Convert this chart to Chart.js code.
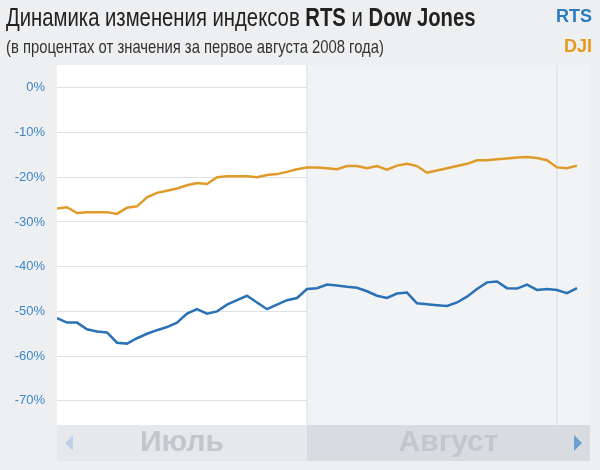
<!DOCTYPE html>
<html><head><meta charset="utf-8">
<script src="https://cdn.jsdelivr.net/npm/chart.js@4"></script>
<style>
body{margin:0;background:#eeeff1;font-family:"Liberation Sans",sans-serif}
#wrap{position:relative;width:600px;height:470px}
.tx{position:absolute;transform-origin:left top;transform:scaleX(0.78);white-space:nowrap}
#t1{left:6px;top:2px;font-size:26px;color:#222}
#t2{left:6px;top:36px;font-size:19px;color:#333}
#l1{position:absolute;right:8px;top:6px;font-size:18px;font-weight:bold;color:#2a7bbf}
#l2{position:absolute;right:8px;top:36px;font-size:18px;font-weight:bold;color:#e59a1e}
canvas{position:absolute;left:0;top:0}
</style></head><body>
<div id="wrap">
<canvas id="c" width="600" height="470"></canvas>
<div id="t1" class="tx">Динамика изменения индексов <b>RTS</b> и <b>Dow Jones</b></div>
<div id="t2" class="tx">(в процентах от значения за первое августа 2008 года)</div>
<div id="l1">RTS</div><div id="l2">DJI</div>
</div>
<script>
// values, % of 1 Aug 2008
const rts = [-51.5,-52.5,-52.5,-54,-54.5,-54.7,-57,-57.2,-56,-55,-54.2,-53.5,-52.5,-50.5,-49.5,-50.5,-50,-48.5,-47.5,-46.5,-48,-49.5,-48.5,-47.5,-47,-45,-44.8,-44,-44.2,-44.5,-44.7,-45.5,-46.5,-47,-46,-45.8,-48.2,-48.4,-48.6,-48.8,-48,-46.7,-45,-43.5,-43.3,-44.8,-44.9,-44,-45.2,-45,-45.2,-45.9,-44.8];
const dji = [-27,-26.7,-28,-27.8,-27.8,-27.8,-28.2,-26.8,-26.5,-24.5,-23.5,-23,-22.5,-21.8,-21.3,-21.5,-20,-19.8,-19.8,-19.8,-20,-19.5,-19.3,-18.8,-18.2,-17.8,-17.8,-18,-18.2,-17.5,-17.5,-18,-17.5,-18.3,-17.4,-17,-17.5,-19,-18.5,-18,-17.5,-17,-16.2,-16.2,-16,-15.8,-15.6,-15.5,-15.7,-16.2,-17.8,-18,-17.4];
const months = ["Июль", "Август"];
const monthStart = 25; // first point of August
const yTicks = [0,-10,-20,-30,-40,-50,-60,-70];

const pts = a => a.map((v, i) => ({x: i, y: v}));

// backgrounds, separators and month bar
const deco = {
    id: "deco",
    beforeDatasetsDraw(chart) {
        const {ctx, chartArea: a, scales: {x}} = chart;
        const m = x.getPixelForValue(monthStart);
        const e = x.getPixelForValue(50);
        ctx.save();
        ctx.fillStyle = "#f2f3f5";
        ctx.fillRect(m, a.top, a.right - m, a.bottom - a.top);
        ctx.strokeStyle = "#d6dbe2";
        ctx.lineWidth = 1;
        [m, e].forEach(px => { ctx.beginPath(); ctx.moveTo(px, a.top); ctx.lineTo(px, a.bottom); ctx.stroke(); });
        ctx.restore();
    },
    afterDraw(chart) {
        const {ctx, chartArea: a, scales: {x}} = chart;
        const m = x.getPixelForValue(monthStart);
        const top = a.bottom, h = 36;
        ctx.save();
        ctx.fillStyle = "#e6e8eb";
        ctx.fillRect(a.left, top, m - a.left, h);
        ctx.fillStyle = "#d8dbdf";
        ctx.fillRect(m, top, a.right - m, h);
        ctx.fillStyle = "#c3c6cb";
        ctx.font = "bold 30px 'Liberation Sans', sans-serif";
        ctx.textAlign = "center";
        ctx.textBaseline = "middle";
        ctx.fillText(months[0], (a.left + m) / 2, top + h / 2);
        ctx.fillText(months[1], (m + a.right) / 2, top + h / 2);
        ctx.fillStyle = "#bcd0e6";
        ctx.beginPath(); ctx.moveTo(a.left + 16, top + 10); ctx.lineTo(a.left + 16, top + 26); ctx.lineTo(a.left + 8, top + 18); ctx.fill();
        ctx.fillStyle = "#6a9fd0";
        ctx.beginPath(); ctx.moveTo(a.right - 16, top + 10); ctx.lineTo(a.right - 16, top + 26); ctx.lineTo(a.right - 8, top + 18); ctx.fill();
        ctx.restore();
    }
};

new Chart(document.getElementById("c"), {
    type: "line",
    data: {
        datasets: [
            {label: "RTS", data: pts(rts), borderColor: "#2a72b5", borderWidth: 2.5, pointRadius: 0, tension: 0},
            {label: "DJI", data: pts(dji), borderColor: "#e09a2a", borderWidth: 2.5, pointRadius: 0, tension: 0}
        ]
    },
    options: {
        responsive: false,
        animation: false,
        layout: {padding: {top: 65, bottom: 45, right: 10, left: 0}},
        plugins: {legend: {display: false}, tooltip: {enabled: false}},
        scales: {
            x: {type: "linear", min: 0, max: 53.3, display: false},
            y: {
                min: -75.4, max: 5.1,
                afterFit: s => { s.width = 57; },
                afterBuildTicks: s => { s.ticks = yTicks.map(v => ({value: v})); },
                grid: {color: "#dde0e4", drawTicks: false},
                border: {display: false},
                ticks: {
                    color: "#3d86c6", padding: 12,
                    font: {size: 13, family: "'Liberation Sans', sans-serif"},
                    callback: v => v + "%"
                }
            }
        }
    },
    plugins: [deco, {
        id: "white",
        beforeDraw(chart) {
            const {ctx, chartArea: a} = chart;
            ctx.save();
            ctx.fillStyle = "#ffffff";
            ctx.fillRect(a.left, a.top, a.right - a.left, a.bottom - a.top);
            ctx.restore();
        }
    }]
});
</script>
</body></html>
